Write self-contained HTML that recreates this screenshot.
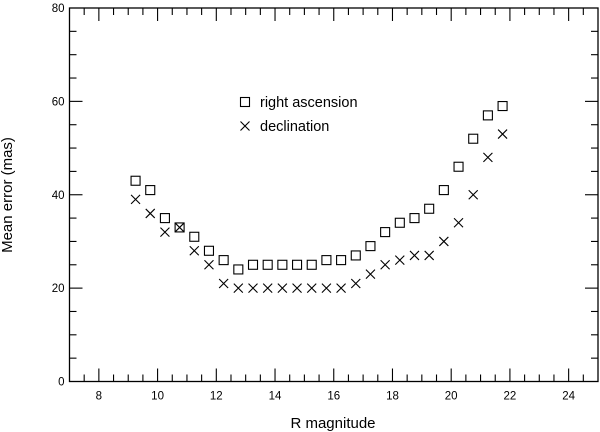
<!DOCTYPE html>
<html><head><meta charset="utf-8"><style>
html,body{margin:0;padding:0;background:#fff}
svg{display:block;font-family:"Liberation Sans",Arial,sans-serif}
</style></head><body>
<svg id="chart" width="600" height="432" viewBox="0 0 600 432">
<rect x="69.5" y="8" width="528.5" height="373.5" fill="none" stroke="#000" stroke-width="1.3"/>
<g id="ticks"></g>
<g id="marks"></g>
<text x="12" y="195" font-size="15" text-anchor="middle" transform="rotate(-90 12 195)">Mean error (mas)</text>
<text x="333" y="428" font-size="15" text-anchor="middle">R magnitude</text>
<g>
<rect x="240.5" y="97.5" width="9" height="9" fill="none" stroke="#000" stroke-width="1.1"/>
<text x="260" y="107" font-size="14.5">right ascension</text>
<path d="M240.5 121.5 L249.5 130.5 M249.5 121.5 L240.5 130.5" stroke="#000" stroke-width="1.1"/>
<text x="260" y="131" font-size="14.5">declination</text>
</g>
</svg>
<script>
const magnitudes = [9.25,9.75,10.25,10.75,11.25,11.75,12.25,12.75,13.25,13.75,14.25,14.75,15.25,15.75,16.25,16.75,17.25,17.75,18.25,18.75,19.25,19.75,20.25,20.75,21.25,21.75];
const rightAscension = [43,41,35,33,31,28,26,24,25,25,25,25,25,26,26,27,29,32,34,35,37,41,46,52,57,59];
const declination = [39,36,32,33,28,25,21,20,20,20,20,20,20,20,20,21,23,25,26,27,27,30,34,40,48,53];
const xTickLabels = [8,10,12,14,16,18,20,22,24];
const yTickLabels = [0,20,40,60,80];
const X0=7,X1=25,Y0=0,Y1=80;
const PL=69.5,PR=598,PT=8,PB=381.5;
const xs=v=>PL+(v-X0)/(X1-X0)*(PR-PL);
const ys=v=>PB-(v-Y0)/(Y1-Y0)*(PB-PT);
const NS="http://www.w3.org/2000/svg";
const ticks=document.getElementById('ticks');
const marks=document.getElementById('marks');
function ln(g,x1,y1,x2,y2){const l=document.createElementNS(NS,'line');l.setAttribute('x1',x1);l.setAttribute('y1',y1);l.setAttribute('x2',x2);l.setAttribute('y2',y2);l.setAttribute('stroke','#000');l.setAttribute('stroke-width','1.1');g.appendChild(l);return l;}
for(let v=7.5;v<25;v+=0.5){
  const major=xTickLabels.includes(v);const L=major?13:7;const x=xs(v);
  const a=ln(ticks,x,PB,x,PB-L);
  
  
  const b=ln(ticks,x,PT,x,PT+L);
  
  
}
for(let v=5;v<80;v+=5){
  const major=yTickLabels.includes(v);const L=major?13:7;const y=ys(v);
  const a=ln(ticks,PL,y,PL+L,y);
  
  
  const b=ln(ticks,PR,y,PR-L,y);
  
  
}
xTickLabels.forEach(v=>{const t=document.createElementNS(NS,'text');t.setAttribute('x',xs(v));t.setAttribute('y',PB+18);t.setAttribute('font-size','11.5');t.setAttribute('text-anchor','middle');t.textContent=v;
  
  
  ticks.appendChild(t);});
yTickLabels.forEach(v=>{const t=document.createElementNS(NS,'text');t.setAttribute('x',PL-5);t.setAttribute('y',ys(v)+4);t.setAttribute('font-size','11.5');t.setAttribute('text-anchor','end');t.textContent=v;
  
  
  ticks.appendChild(t);});
magnitudes.forEach((m,i)=>{
  const x=xs(m),y=ys(rightAscension[i]);
  const r=document.createElementNS(NS,'rect');
  r.setAttribute('x',x-4.5);r.setAttribute('y',y-4.5);r.setAttribute('width',9);r.setAttribute('height',9);
  r.setAttribute('fill','none');r.setAttribute('stroke','#000');r.setAttribute('stroke-width','1.1');
  
  
  marks.appendChild(r);
  const y2=ys(declination[i]);
  const p=document.createElementNS(NS,'path');
  p.setAttribute('d',`M${x-4.5} ${y2-4.5}L${x+4.5} ${y2+4.5}M${x+4.5} ${y2-4.5}L${x-4.5} ${y2+4.5}`);
  p.setAttribute('stroke','#000');p.setAttribute('stroke-width','1.1');
  
  
  marks.appendChild(p);
});
</script>
</body></html>
